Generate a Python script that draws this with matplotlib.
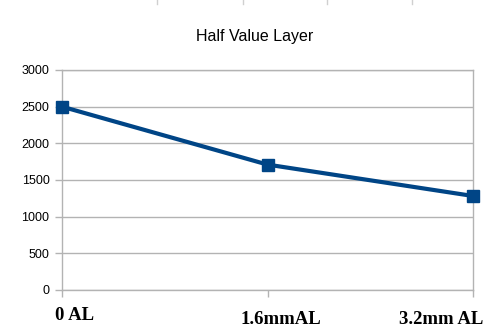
import matplotlib
matplotlib.use('Agg')
from matplotlib import pyplot as plt
from matplotlib.lines import Line2D

categories = ['0 AL', '1.6mmAL', '3.2mm AL']
values = [2500, 1710, 1282]
yticks = [0, 500, 1000, 1500, 2000, 2500, 3000]

grey = '#b3b3b3'
blue = '#004586'

fig = plt.figure(figsize=(4.88, 3.31), dpi=100)
ax = fig.add_axes([62 / 488, 1 - 290 / 331, 411 / 488, 220 / 331])

x = list(range(len(categories)))
ax.plot(x, values, color=blue, linewidth=3, marker='s', markersize=8, clip_on=False, zorder=3)

ax.set_xlim(0, 2)
ax.set_ylim(0, 3000)
ax.set_yticks(yticks)
ax.set_yticklabels([str(v) for v in yticks], fontsize=9, family='Liberation Sans')
ax.set_xticks(x)
ax.set_xticklabels([])
ax.yaxis.grid(True, color=grey, linewidth=1)
ax.set_axisbelow(True)
for s in ax.spines.values():
    s.set_color(grey)
    s.set_linewidth(1)
ax.tick_params(axis='both', color=grey, length=5, width=1, pad=4)

# category labels sit off-centre from their ticks in the original
offsets = [(-7, -26, 'left'), (-27, -30, 'left'), (10, -30, 'right')]
for i, lab in enumerate(categories):
    dx, dy, ha = offsets[i]
    ax.annotate(lab, xy=(i, 0), xycoords=('data', 'axes fraction'),
                xytext=(dx, dy), textcoords='offset pixels',
                ha=ha, va='center', fontsize=13.5, fontweight='bold',
                family='Liberation Serif', annotation_clip=False)

fig.text(255 / 488, 1 - 36 / 331, 'Half Value Layer', ha='center', va='center',
         fontsize=11.5, family='Liberation Sans')

# faint marks along the top edge
for px in [157, 243, 327, 412]:
    fig.add_artist(Line2D([px / 488, px / 488], [1, 1 - 4 / 331], color='#d0d0d0', linewidth=1))

fig.savefig('out.png', dpi=100)
